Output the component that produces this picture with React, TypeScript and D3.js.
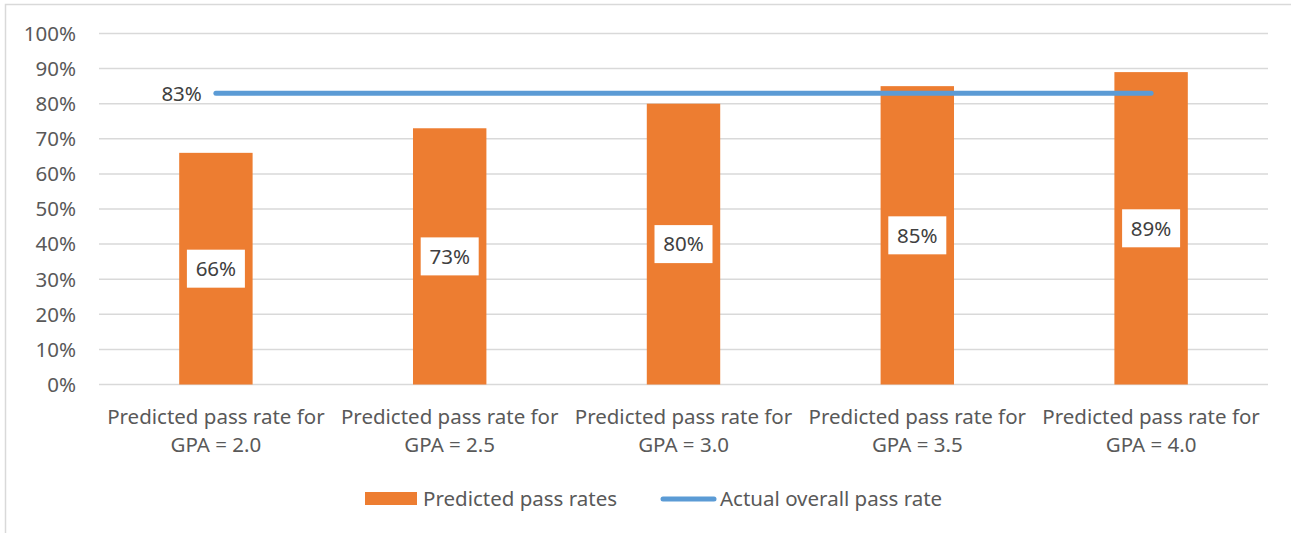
import React from "react";
import * as d3 from "d3";

// Chart data
const categories = [
  "Predicted pass rate for|GPA = 2.0",
  "Predicted pass rate for|GPA = 2.5",
  "Predicted pass rate for|GPA = 3.0",
  "Predicted pass rate for|GPA = 3.5",
  "Predicted pass rate for|GPA = 4.0",
];
const predictedRates = [0.66, 0.73, 0.8, 0.85, 0.89];
const actualOverallRate = [0.83, 0.83, 0.83, 0.83, 0.83];
const yTicks = [0, 0.1, 0.2, 0.3, 0.4, 0.5, 0.6, 0.7, 0.8, 0.9, 1.0];
const seriesNames = ["Predicted pass rates", "Actual overall pass rate"];

const W = 1291;
const H = 533;
const FONT = "'Noto Sans', 'Open Sans', sans-serif";
const TEXT = "#595959";
const ORANGE = "#ED7D31";
const BLUE = "#5B9BD5";
const GRID = "#D9D9D9";

const plot = { left: 99, right: 1268, top: 33.5, bottom: 384.5 };

export default function App() {
  const x = d3
    .scaleBand<string>()
    .domain(categories)
    .range([plot.left, plot.right])
    .paddingInner(0.686)
    .paddingOuter(0.343);
  const y = d3.scaleLinear().domain([0, 1]).range([plot.bottom, plot.top]);
  const fmt = d3.format(".0%");
  const center = (c: string) => (x(c) ?? 0) + x.bandwidth() / 2;

  const line = d3
    .line<number>()
    .x((_, i) => center(categories[i]))
    .y((d) => y(d));

  const fs = 20.5;

  return (
    <svg
      width={W}
      height={H}
      style={{ position: "absolute", left: 0, top: 0, background: "#fff" }}
      fontFamily={FONT}
    >
      {/* chart frame */}
      <rect x={5.5} y={4.5} width={W + 10} height={H + 10} fill="#fff" stroke={GRID} strokeWidth={1.5} />

      {/* horizontal gridlines and y-axis labels */}
      {yTicks.map((t) => (
        <g key={t}>
          <line x1={plot.left} x2={plot.right} y1={y(t)} y2={y(t)} stroke={GRID} strokeWidth={1.5} />
          <text x={76} y={y(t)} dy="0.36em" textAnchor="end" fontSize={fs} fill={TEXT}>
            {fmt(t)}
          </text>
        </g>
      ))}

      {/* bars */}
      {predictedRates.map((v, i) => (
        <rect
          key={i}
          x={x(categories[i])}
          y={y(v)}
          width={x.bandwidth()}
          height={y(0) - y(v)}
          fill={ORANGE}
        />
      ))}

      {/* overall pass rate line */}
      <path
        d={line(actualOverallRate) ?? ""}
        fill="none"
        stroke={BLUE}
        strokeWidth={5}
        strokeLinecap="round"
      />
      <text
        x={center(categories[0]) - 14}
        y={y(actualOverallRate[0])}
        dy="0.36em"
        textAnchor="end"
        fontSize={fs}
        fill="#404040"
      >
        {fmt(actualOverallRate[0])}
      </text>

      {/* bar value labels */}
      {predictedRates.map((v, i) => {
        const cx = center(categories[i]);
        const cy = (y(v) + y(0)) / 2;
        const bw = 58;
        const bh = 38;
        return (
          <g key={i}>
            <rect x={cx - bw / 2} y={cy - bh / 2} width={bw} height={bh} fill="#fff" />
            <text x={cx} y={cy} dy="0.36em" textAnchor="middle" fontSize={fs} fill="#404040">
              {fmt(v)}
            </text>
          </g>
        );
      })}

      {/* category labels */}
      {categories.map((c) => {
        const [l1, l2] = c.split("|");
        return (
          <text key={c} x={center(c)} textAnchor="middle" fontSize={fs} fill={TEXT}>
            <tspan x={center(c)} y={424}>{l1}</tspan>
            <tspan x={center(c)} y={452}>{l2}</tspan>
          </text>
        );
      })}

      {/* legend */}
      <rect x={365} y={492} width={52} height={13} fill={ORANGE} />
      <text x={423} y={498.5} dy="0.36em" fontSize={fs} fill={TEXT}>
        {seriesNames[0]}
      </text>
      <line x1={663} x2={714} y1={499} y2={499} stroke={BLUE} strokeWidth={5} strokeLinecap="round" />
      <text x={720} y={498.5} dy="0.36em" fontSize={fs} fill={TEXT}>
        {seriesNames[1]}
      </text>
    </svg>
  );
}
